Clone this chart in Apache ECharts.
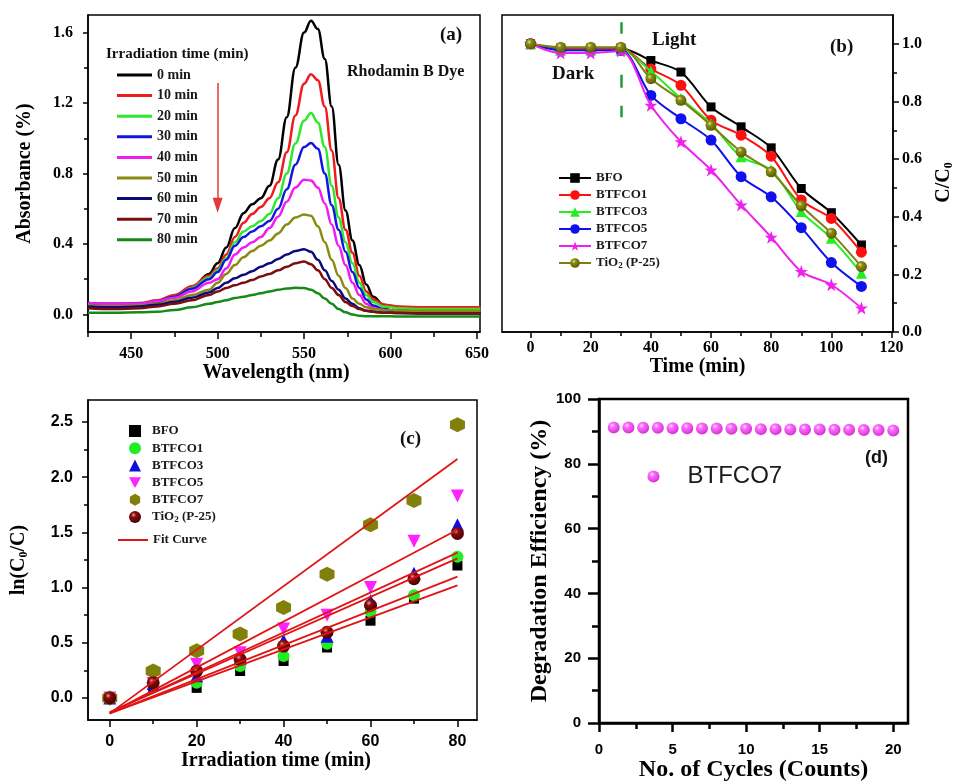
<!DOCTYPE html>
<html>
<head>
<meta charset="utf-8">
<title>Photocatalytic degradation of Rhodamine B</title>
<script src="https://cdn.jsdelivr.net/npm/echarts@6.0.0/dist/echarts.min.js"></script>
<style>
  html, body { margin: 0; padding: 0; background: #fff; }
  #chart { width: 957px; height: 782px; }
</style>
</head>
<body>
<div id="chart"></div>
<script>
// ===== (a) Absorption spectra of Rhodamine B at successive irradiation times =====
const wavelengths = [425, 440, 455, 465, 475, 485, 495, 500, 505, 510, 515, 520, 525, 530, 535, 540, 545,
                     550, 554, 558, 562, 566, 570, 574, 578, 582, 586, 590, 596, 605, 620, 635, 652];
const spectrumNames = ['0 min', '10 min', '20 min', '30 min', '40 min', '50 min', '60 min', '70 min', '80 min'];
const abs0min  = [0.055,0.05,0.055,0.07,0.10,0.15,0.23,0.29,0.38,0.49,0.575,0.625,0.66,0.73,0.88,1.12,1.40,1.60,1.667,1.62,1.45,1.18,0.85,0.59,0.42,0.28,0.17,0.10,0.055,0.035,0.02,0.015,0.015];
const abs10min = [0.065,0.06,0.065,0.08,0.11,0.16,0.22,0.26,0.34,0.44,0.52,0.57,0.61,0.66,0.75,0.92,1.13,1.31,1.364,1.33,1.18,0.93,0.66,0.48,0.35,0.22,0.13,0.085,0.055,0.045,0.04,0.04,0.04];
const abs20min = [0.06,0.055,0.06,0.075,0.10,0.15,0.21,0.25,0.32,0.41,0.47,0.50,0.53,0.57,0.66,0.80,0.97,1.10,1.143,1.09,0.95,0.73,0.55,0.41,0.29,0.18,0.11,0.07,0.045,0.035,0.03,0.03,0.03];
const abs30min = [0.065,0.06,0.06,0.075,0.10,0.145,0.20,0.24,0.31,0.39,0.44,0.47,0.50,0.53,0.60,0.71,0.85,0.95,0.973,0.94,0.80,0.62,0.48,0.355,0.24,0.15,0.085,0.05,0.03,0.015,0.01,0.01,0.01];
const abs40min = [0.065,0.06,0.06,0.075,0.095,0.13,0.18,0.20,0.26,0.34,0.38,0.41,0.44,0.49,0.555,0.64,0.72,0.765,0.76,0.72,0.63,0.51,0.39,0.28,0.18,0.11,0.06,0.035,0.025,0.02,0.015,0.015,0.015];
const abs50min = [0.05,0.045,0.05,0.06,0.08,0.11,0.14,0.18,0.23,0.28,0.325,0.36,0.39,0.42,0.46,0.51,0.55,0.567,0.56,0.50,0.41,0.31,0.22,0.15,0.09,0.06,0.04,0.03,0.025,0.02,0.02,0.02,0.02];
const abs60min = [0.045,0.04,0.045,0.055,0.07,0.095,0.125,0.15,0.18,0.205,0.225,0.245,0.27,0.29,0.315,0.34,0.36,0.37,0.355,0.31,0.25,0.19,0.14,0.09,0.06,0.035,0.02,0.015,0.01,0.008,0.005,0.005,0.005];
const abs70min = [0.035,0.03,0.035,0.045,0.06,0.08,0.11,0.13,0.15,0.165,0.18,0.195,0.215,0.23,0.25,0.27,0.29,0.30,0.285,0.25,0.20,0.15,0.11,0.07,0.048,0.03,0.02,0.015,0.01,0.008,0.005,0.005,0.005];
const abs80min = [0.01,0.01,0.012,0.015,0.025,0.04,0.06,0.07,0.08,0.093,0.10,0.11,0.12,0.13,0.14,0.147,0.151,0.15,0.14,0.12,0.09,0.06,0.03,0.012,0.0,-0.008,-0.01,-0.01,-0.01,-0.012,-0.012,-0.012,-0.012];
const spectra = [abs0min, abs10min, abs20min, abs30min, abs40min, abs50min, abs60min, abs70min, abs80min];

// ===== (b) Relative concentration C/C0 versus time (dark, then light) =====
const kineticTime = [0, 10, 20, 30, 40, 50, 60, 70, 80, 90, 100, 110];
const ratioBFO    = [1.0, 0.985, 0.985, 0.985, 0.942, 0.902, 0.781, 0.712, 0.639, 0.498, 0.414, 0.302];
const ratioBTFCO1 = [1.0, 0.983, 0.983, 0.983, 0.913, 0.856, 0.735, 0.683, 0.610, 0.458, 0.394, 0.277];
const ratioBTFCO3 = [1.0, 0.978, 0.978, 0.978, 0.905, 0.810, 0.723, 0.608, 0.562, 0.418, 0.325, 0.204];
const ratioBTFCO5 = [1.0, 0.978, 0.978, 0.978, 0.821, 0.740, 0.666, 0.539, 0.469, 0.362, 0.241, 0.158];
const ratioBTFCO7 = [1.0, 0.968, 0.968, 0.975, 0.787, 0.660, 0.562, 0.441, 0.329, 0.210, 0.164, 0.083];
const ratioTiO2   = [1.0, 0.988, 0.988, 0.988, 0.879, 0.804, 0.717, 0.625, 0.556, 0.438, 0.343, 0.227];

// ===== (c) Pseudo-first-order kinetics ln(C0/C) with linear fits =====
const lnTime    = [0, 10, 20, 30, 40, 50, 60, 70, 80];
const lnBFO     = [0, 0.10, 0.091, 0.244, 0.335, 0.457, 0.70, 0.90, 1.20];
const lnBTFCO1  = [0, 0.12, 0.137, 0.29, 0.38, 0.49, 0.78, 0.93, 1.28];
const lnBTFCO3  = [0, 0.13, 0.20, 0.36, 0.52, 0.56, 0.88, 1.13, 1.57];
const lnBTFCO5  = [0, 0.13, 0.305, 0.41, 0.625, 0.75, 1.0, 1.42, 1.83];
const lnBTFCO7  = [0, 0.244, 0.427, 0.58, 0.82, 1.12, 1.57, 1.79, 2.476];
const lnTiO2    = [0, 0.137, 0.244, 0.35, 0.47, 0.595, 0.84, 1.08, 1.49];
const fitTime   = [0, 80];
const fitBFO    = [-0.14, 1.02];
const fitBTFCO1 = [-0.14, 1.10];
const fitTiO2   = [-0.13, 1.265];
const fitBTFCO3 = [-0.13, 1.317];
const fitBTFCO5 = [-0.14, 1.524];
const fitBTFCO7 = [-0.14, 2.165];

// ===== (d) Recyclability of BTFCO7 =====
const cycleNo    = [1, 2, 3, 4, 5, 6, 7, 8, 9, 10, 11, 12, 13, 14, 15, 16, 17, 18, 19, 20];
const efficiency = [91.2, 91.2, 91.1, 91.1, 91.0, 91.0, 90.9, 90.9, 90.8, 90.8, 90.7, 90.7, 90.6, 90.6, 90.6, 90.5, 90.5, 90.4, 90.4, 90.3];

// ---------------------------------------------------------------------------
const SERIF = '"Liberation Serif", "Times New Roman", serif';
const SANS = '"Liberation Sans", Arial, sans-serif';
const spectrumColors = ['#000000', '#ee1c1c', '#2ee82e', '#1515e0', '#f01cf0', '#8a8a12', '#0a0a7a', '#7a0f0f', '#168a16'];

const STAR = 'path://M50 2 L62 38 L98 38 L69 60 L80 96 L50 74 L20 96 L31 60 L2 38 L38 38 Z';
const DOWN_TRIANGLE = 'path://M0 0 L100 0 L50 88 Z';
const HEXAGON = 'path://M50 0 L93 25 L93 75 L50 100 L7 75 L7 25 Z';

function ball(light, mid, dark) {
  return {
    type: 'radial', x: 0.38, y: 0.33, r: 0.68,
    colorStops: [{ offset: 0, color: light }, { offset: 0.3, color: mid }, { offset: 1, color: dark }]
  };
}

const pairs = (xs, ys) => xs.map((x, i) => [x, ys[i]]);

// Builds a labelled axis plus an overlay axis that only draws the shorter minor ticks.
function axisPair(gridIndex, o) {
  const common = { type: 'value', gridIndex, min: o.min, max: o.max, position: o.position, splitLine: { show: false } };
  const major = Object.assign({}, common, {
    axisLine: { show: true, onZero: false, lineStyle: { color: '#000', width: o.lineWidth } },
    axisTick: { show: true, inside: false, customValues: o.major, length: o.tickLen, lineStyle: { color: '#000', width: o.lineWidth } },
    axisLabel: {
      show: true, customValues: o.major, margin: o.margin, formatter: o.fmt,
      color: '#000', fontFamily: o.font, fontSize: o.fontSize, fontWeight: 'bold'
    },
    name: o.name, nameLocation: 'middle', nameGap: o.nameGap,
    nameTextStyle: Object.assign({ color: '#000', fontFamily: SERIF, fontWeight: 'bold', fontSize: o.nameSize }, o.nameStyle || {})
  });
  const minor = Object.assign({}, common, {
    axisLine: { show: false, onZero: false },
    axisTick: { show: true, inside: false, customValues: o.minor, length: o.minorLen, lineStyle: { color: '#000', width: o.lineWidth } },
    axisLabel: { show: false }
  });
  return [major, minor];
}

const fixed1 = v => v.toFixed(1);
const plain = v => String(v);

const xAxes = [].concat(
  axisPair(0, { min: 425, max: 651.8, position: 'bottom', major: [450, 500, 550, 600, 650], minor: [425, 475, 525, 575, 625],
    tickLen: 7, minorLen: 5, lineWidth: 1.5, margin: 14, fmt: plain, font: SERIF, fontSize: 16,
    name: 'Wavelength (nm)', nameGap: 26, nameSize: 20, nameStyle: { padding: [0, 16, 0, 0] } }),
  axisPair(1, { min: -9.5, max: 120.5, position: 'bottom', major: [0, 20, 40, 60, 80, 100, 120], minor: [10, 30, 50, 70, 90, 110],
    tickLen: 6, minorLen: 4, lineWidth: 1.5, margin: 8, fmt: plain, font: SERIF, fontSize: 16,
    name: 'Time (min)', nameGap: 19, nameSize: 20 }),
  axisPair(2, { min: -5, max: 84.5, position: 'bottom', major: [0, 20, 40, 60, 80], minor: [10, 30, 50, 70],
    tickLen: 7, minorLen: 4, lineWidth: 1.5, margin: 14, fmt: plain, font: SANS, fontSize: 16,
    name: 'Irradiation time (min)', nameGap: 30, nameSize: 20, nameStyle: { padding: [0, 13, 0, 0] } }),
  axisPair(3, { min: 0, max: 21, position: 'bottom', major: [0, 5, 10, 15, 20], minor: [2.5, 7.5, 12.5, 17.5],
    tickLen: 9, minorLen: 6, lineWidth: 2.5, margin: 19, fmt: plain, font: SANS, fontSize: 15,
    name: 'No. of Cycles (Counts)', nameGap: 32, nameSize: 24 })
);

const yAxes = [].concat(
  axisPair(0, { min: -0.1, max: 1.7, position: 'left', major: [0, 0.4, 0.8, 1.2, 1.6], minor: [0.2, 0.6, 1.0, 1.4],
    tickLen: 5, minorLen: 4, lineWidth: 1.5, margin: 15, fmt: fixed1, font: SERIF, fontSize: 16,
    name: 'Absorbance (%)', nameGap: 53, nameSize: 20 }),
  axisPair(1, { min: 0, max: 1.1, position: 'right', major: [0, 0.2, 0.4, 0.6, 0.8, 1.0], minor: [0.1, 0.3, 0.5, 0.7, 0.9],
    tickLen: 6, minorLen: 4, lineWidth: 1.5, margin: 9, fmt: fixed1, font: SERIF, fontSize: 16,
    name: '{m|C/C}{s|0}', nameGap: 40, nameSize: 20,
    nameStyle: {
      padding: [0, 18, 0, 0],
      rich: {
        m: { fontFamily: SERIF, fontWeight: 'bold', fontSize: 20, lineHeight: 22, color: '#000' },
        s: { fontFamily: SERIF, fontWeight: 'bold', fontSize: 12, lineHeight: 12, verticalAlign: 'bottom', color: '#000' }
      }
    } }),
  axisPair(2, { min: -0.2, max: 2.7, position: 'left', major: [0, 0.5, 1.0, 1.5, 2.0, 2.5], minor: [0.25, 0.75, 1.25, 1.75, 2.25],
    tickLen: 6, minorLen: 4, lineWidth: 1.5, margin: 15, fmt: fixed1, font: SANS, fontSize: 16,
    name: '{m|ln(C}{s|0}{m|/C)}', nameGap: 58, nameSize: 20,
    nameStyle: {
      rich: {
        m: { fontFamily: SERIF, fontWeight: 'bold', fontSize: 20, lineHeight: 22, color: '#000' },
        s: { fontFamily: SERIF, fontWeight: 'bold', fontSize: 12, lineHeight: 12, verticalAlign: 'bottom', color: '#000' }
      }
    } }),
  axisPair(3, { min: 0, max: 100, position: 'left', major: [0, 20, 40, 60, 80, 100], minor: [10, 30, 50, 70, 90],
    tickLen: 11, minorLen: 7, lineWidth: 2.5, margin: 18, fmt: plain, font: SANS, fontSize: 15,
    name: 'Degradation Efficiency (%)', nameGap: 37, nameSize: 24 })
);

// Axis indices of the labelled (major) axes of each panel
const AX = { a: 0, b: 2, c: 4, d: 6 };

// ---- panel (a) series ----
const seriesA = spectra.map((vals, i) => ({
  name: spectrumNames[i], type: 'line', xAxisIndex: AX.a, yAxisIndex: AX.a,
  data: pairs(wavelengths, vals), smooth: 0.4, smoothMonotone: 'x',
  symbol: 'none', showSymbol: false,
  lineStyle: { width: 2.5, color: spectrumColors[i] }, itemStyle: { color: spectrumColors[i] },
  z: 3
}));
// downward arrow showing the decay of the absorption band
seriesA[0].markLine = {
  silent: true, symbol: ['none', 'triangle'], symbolSize: [10, 15],
  label: { show: false }, emphasis: { disabled: true },
  lineStyle: { color: '#e03a3a', width: 1.5, type: 'solid' },
  data: [[{ coord: [500, 1.314] }, { coord: [500, 0.62] }]]
};

// ---- panel (b) series ----
const kinSpecs = [
  { name: 'BFO', data: ratioBFO, color: '#000000', symbol: 'rect', size: 9 },
  { name: 'BTFCO1', data: ratioBTFCO1, color: '#ff1010', symbol: 'circle', size: 11 },
  { name: 'BTFCO3', data: ratioBTFCO3, color: '#22ee22', symbol: 'triangle', size: 11 },
  { name: 'BTFCO5', data: ratioBTFCO5, color: '#1010ee', symbol: 'circle', size: 11 },
  { name: 'BTFCO7', data: ratioBTFCO7, color: '#ee22ee', symbol: STAR, size: 13 },
  { name: 'TiO2 (P-25)', data: ratioTiO2, color: '#7f7f0f', symbol: 'circle', size: 11, fill: ball('#e4e4a0', '#8c8c14', '#5a5a05') }
];
const seriesB = kinSpecs.map((s, i) => ({
  name: s.name, type: 'line', xAxisIndex: AX.b, yAxisIndex: AX.b,
  data: pairs(kineticTime, s.data), smooth: 0.3,
  symbol: s.symbol, symbolSize: s.size, showSymbol: true,
  lineStyle: { width: 2, color: s.color },
  itemStyle: { color: s.fill || s.color, borderWidth: 0 },
  z: 3 + i
}));
// dark / light boundary at 30 min
seriesB[0].markLine = {
  silent: true, symbol: ['none', 'none'], label: { show: false }, emphasis: { disabled: true },
  lineStyle: { color: '#239a3a', width: 2.5, type: 'solid' },
  data: [
    [{ coord: [30, 1.075] }, { coord: [30, 1.035] }],
    [{ coord: [30, 0.955], lineStyle: { type: [13, 18], dashOffset: 13 } }, { coord: [30, 0.745] }]
  ]
};

// ---- panel (c) series ----
const lnSpecs = [
  { name: 'c:BFO', data: lnBFO, symbol: 'rect', size: 10, color: '#000000' },
  { name: 'c:BTFCO1', data: lnBTFCO1, symbol: 'circle', size: 12, color: '#22ee22' },
  { name: 'c:BTFCO3', data: lnBTFCO3, symbol: 'triangle', size: 13, color: '#1010dd' },
  { name: 'c:BTFCO5', data: lnBTFCO5, symbol: DOWN_TRIANGLE, size: 13, color: '#ff22ff' },
  { name: 'c:BTFCO7', data: lnBTFCO7, symbol: HEXAGON, size: 15, color: '#80800a' },
  { name: 'c:TiO2 (P-25)', data: lnTiO2, symbol: 'circle', size: 13, color: ball('#e8a0a0', '#8a0c0c', '#4a0000') }
];
const seriesC = lnSpecs.map((s, i) => ({
  name: s.name, type: 'scatter', xAxisIndex: AX.c, yAxisIndex: AX.c,
  data: pairs(lnTime, s.data), symbol: s.symbol, symbolSize: s.size,
  itemStyle: { color: s.color, opacity: 1 }, z: 3 + i
}));
[fitBFO, fitBTFCO1, fitTiO2, fitBTFCO3, fitBTFCO5, fitBTFCO7].forEach(fit => {
  seriesC.push({
    name: 'c:Fit Curve', type: 'line', xAxisIndex: AX.c, yAxisIndex: AX.c,
    data: pairs(fitTime, fit), symbol: 'none', showSymbol: false,
    lineStyle: { width: 1.8, color: '#e01414' }, itemStyle: { color: '#e01414' }, z: 10
  });
});

// ---- panel (d) series ----
const seriesD = [{
  name: 'd:BTFCO7', type: 'scatter', xAxisIndex: AX.d, yAxisIndex: AX.d,
  data: pairs(cycleNo, efficiency), symbol: 'circle', symbolSize: 12,
  itemStyle: { color: ball('#ffe4ff', '#ff44ff', '#c800c8') }, z: 5
}];

const stripPrefix = name => name.replace(/^[cd]:/, '');
const subscriptTiO2 = name => {
  const n = stripPrefix(name);
  return n.indexOf('TiO2') === 0 ? '{n|TiO}{s|2}{n|' + n.slice(4) + '}' : '{n|' + n + '}';
};
const legendText = (size, lh, padLeft) => ({
  fontFamily: SERIF, fontWeight: 'bold', fontSize: size, color: '#1a1a1a', lineHeight: lh,
  padding: [0, 0, 0, padLeft || 0],
  rich: {
    n: { fontFamily: SERIF, fontWeight: 'bold', fontSize: size, lineHeight: lh, color: '#1a1a1a' },
    s: { fontFamily: SERIF, fontWeight: 'bold', fontSize: size - 4, lineHeight: size - 4, verticalAlign: 'bottom', color: '#1a1a1a' }
  }
});

function text(str, x, y, size, family, weight) {
  return {
    type: 'text', x, y, silent: true,
    style: {
      text: str, fill: '#111',
      font: (weight || 'bold') + ' ' + size + 'px ' + (family || SERIF),
      textAlign: 'left', textVerticalAlign: 'middle', align: 'left', verticalAlign: 'middle'
    }
  };
}

const gridBase = { show: true, borderColor: '#000', backgroundColor: 'transparent', containLabel: false, outerBoundsMode: 'none' };

const option = {
  animation: false,
  backgroundColor: '#ffffff',
  grid: [
    Object.assign({}, gridBase, { left: 88, top: 15, width: 392, height: 317, borderWidth: 1.5 }),
    Object.assign({}, gridBase, { left: 502, top: 15, width: 391, height: 317, borderWidth: 1.5 }),
    Object.assign({}, gridBase, { left: 88, top: 400, width: 389, height: 320, borderWidth: 1.5 }),
    Object.assign({}, gridBase, { left: 599, top: 399, width: 309, height: 324, borderWidth: 2.5 })
  ],
  xAxis: xAxes,
  yAxis: yAxes,
  legend: [
    { // (a)
      orient: 'vertical', left: 117, top: 68, padding: 0, selectedMode: false,
      itemWidth: 35, itemHeight: 3, itemGap: 6.6, icon: 'rect',
      data: spectrumNames, textStyle: legendText(14, 14)
    },
    { // (b)
      orient: 'vertical', left: 558, top: 171, padding: 0, selectedMode: false,
      itemWidth: 32, itemHeight: 12, itemGap: 3,
      data: kinSpecs.map(s => s.name), formatter: subscriptTiO2, textStyle: legendText(13, 14)
    },
    { // (c) markers
      orient: 'vertical', left: 129, top: 424, padding: 0, selectedMode: false,
      itemWidth: 12, itemHeight: 12, itemGap: 3.2,
      data: lnSpecs.map(s => s.name), formatter: subscriptTiO2, textStyle: legendText(13, 14, 6)
    },
    { // (c) fit line
      orient: 'vertical', left: 118, top: 533, padding: 0, selectedMode: false,
      itemWidth: 30, itemHeight: 2, icon: 'rect',
      data: ['c:Fit Curve'], formatter: subscriptTiO2, textStyle: legendText(13, 14)
    },
    { // (d)
      orient: 'vertical', left: 647.5, top: 463.5, padding: 0, selectedMode: false,
      itemWidth: 12, itemHeight: 12,
      data: ['d:BTFCO7'], formatter: stripPrefix,
      textStyle: { fontFamily: SANS, fontWeight: 'normal', fontSize: 24, lineHeight: 26, color: '#1a1a1a', padding: [0, 0, 0, 23] }
    }
  ],
  graphic: {
    elements: [
      text('(a)', 440, 35, 19),
      text('Rhodamin B Dye', 347, 72, 16),
      text('Irradiation time (min)', 106, 54, 15),
      text('Dark', 552, 74, 19),
      text('Light', 652, 40, 19),
      text('(b)', 830, 47, 19),
      text('(c)', 400, 439, 19),
      text('(d)', 865, 458, 18, SANS)
    ]
  },
  series: [].concat(seriesA, seriesB, seriesC, seriesD)
};

const chart = echarts.init(document.getElementById('chart'), null, { renderer: 'canvas' });
chart.setOption(option);
</script>
</body>
</html>
